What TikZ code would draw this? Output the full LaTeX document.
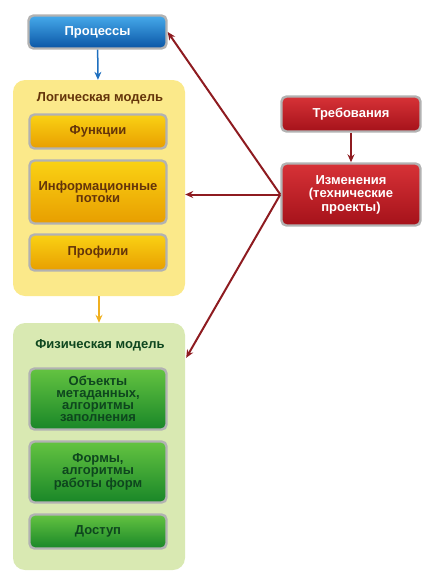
\documentclass[tikz,border=0pt]{standalone}
\usepackage{fontspec}
\setmainfont{Liberation Sans}
\usepackage{tikz}
\usepackage{xcolor}
\usetikzlibrary{arrows.meta, calc}
\definecolor{cRed}{RGB}{142,27,32}
\definecolor{cBlue}{RGB}{30,111,191}
\definecolor{cOrange}{RGB}{240,176,32}
\definecolor{cYelPanel}{RGB}{251,233,138}
\definecolor{cGrnPanel}{RGB}{217,233,178}
\definecolor{cBrown}{RGB}{100,52,10}
\definecolor{cDkGreen}{RGB}{14,70,30}
\tikzset{
	box/.style     ={rectangle, rounded corners=5pt, draw=black!30, line width=2.4pt, align=center, font=\fontsize{13}{12}\selectfont\bfseries, inner sep=2pt},
	bluebox/.style ={box, top color={rgb,255:red,70;green,170;blue,235}, bottom color={rgb,255:red,10;green,85;blue,165}, text=white},
	yelbox/.style  ={box, top color={rgb,255:red,250;green,210;blue,20}, bottom color={rgb,255:red,232;green,158;blue,0}, text=cBrown},
	grnbox/.style  ={box, top color={rgb,255:red,100;green,195;blue,65}, bottom color={rgb,255:red,25;green,135;blue,40}, text=cDkGreen},
	redbox/.style  ={box, top color={rgb,255:red,215;green,50;blue,55}, bottom color={rgb,255:red,165;green,18;blue,26}, text=white, font=\fontsize{13}{13.5}\selectfont\bfseries},
	panel/.style   ={rectangle, rounded corners=12pt, draw=none},
	ptitle/.style  ={font=\fontsize{13}{14.5}\selectfont\bfseries},
	link/.style    ={-{Stealth[length=8pt, width=7pt]}, line width=2pt},
}
\begin{document}
\begin{tikzpicture}[x=1pt, y=-1pt]
	\useasboundingbox (0,0) rectangle (435,584);
	% panels
	\node[panel, fill=cYelPanel, minimum width=172pt, minimum height=216pt] (logic) at (99,188) {};
	\node[panel, fill=cGrnPanel, minimum width=172pt, minimum height=247pt] (phys) at (99,446.5) {};
	\node[ptitle, text=cBrown] (logtitle) at (100,98) {Логическая модель};
	\node[ptitle, text=cDkGreen] (phystitle) at (100,345) {Физическая модель};
	% processes
	\node[bluebox, minimum width=138pt, minimum height=33pt] (proc) at (97.5,32) {Процессы};
	% logical model
	\node[yelbox, minimum width=137pt, minimum height=34pt] (func) at (98,131.5) {Функции};
	\node[yelbox, minimum width=137pt, minimum height=63pt] (info) at (98,192) {Информационные\\потоки};
	\node[yelbox, minimum width=137pt, minimum height=36pt] (prof) at (98,252.5) {Профили};
	% physical model
	\node[grnbox, minimum width=137pt, minimum height=61pt] (obj) at (98,399) {Объекты\\метаданных,\\алгоритмы\\заполнения};
	\node[grnbox, minimum width=137pt, minimum height=61pt] (forms) at (98,472) {Формы,\\алгоритмы\\работы форм};
	\node[grnbox, minimum width=137pt, minimum height=34pt] (access) at (98,531.5) {Доступ};
	% requirements
	\node[redbox, minimum width=139pt, minimum height=35pt] (req) at (351,114) {Требования};
	\node[redbox, minimum width=139pt, minimum height=62pt] (chg) at (351,194.5) {Изменения\\(технические\\проекты)};
	\coordinate (physin) at ($(phys.north east)+(1,35)$);
	% links
	\draw[link, cBlue, line width=1.5pt] (proc) -- (logic);
	\draw[link, cOrange, line width=1.5pt] (logic) -- (phys);
	\draw[link, cRed] (req) -- (chg);
	\draw[link, cRed] (chg.west) -- (proc.east);
	\draw[link, cRed] (chg.west) -- (chg.west -| logic.east);
	\draw[link, cRed] (chg.west) -- (physin);
\end{tikzpicture}
\end{document}
